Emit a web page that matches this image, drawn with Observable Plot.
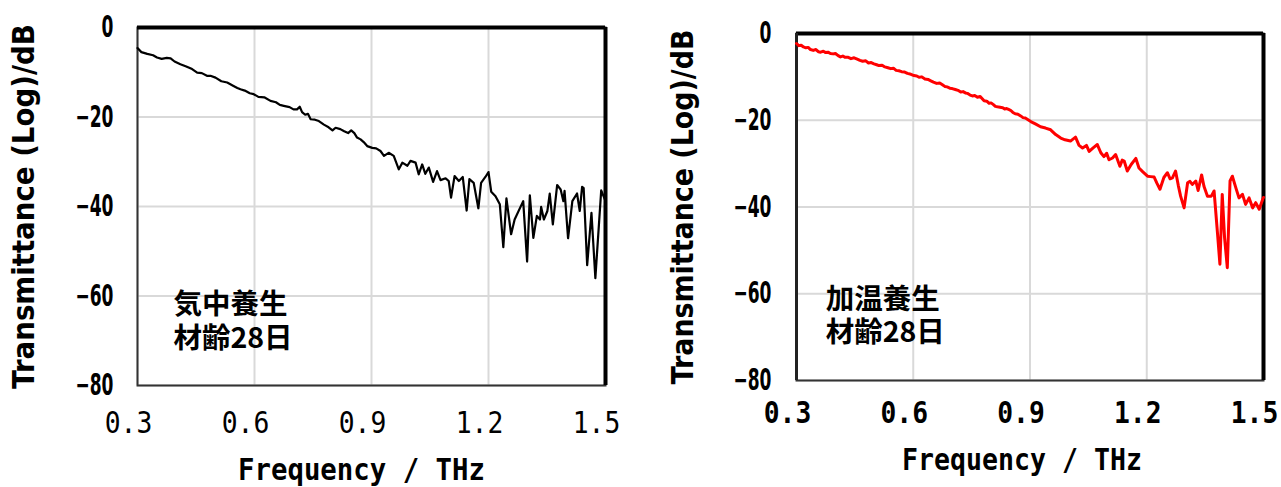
<!DOCTYPE html>
<html>
<head>
<meta charset="utf-8">
<script src="https://cdn.jsdelivr.net/npm/d3@7"></script>
<script src="https://cdn.jsdelivr.net/npm/@observablehq/plot@0.6"></script>
<style>
  body { margin: 0; background: #fff; }
  #wrap { position: relative; width: 1281px; height: 487px; overflow: hidden; background: #fff; }
  #left, #right { position: absolute; top: 0; }
  #left { left: 0; }
  #right { left: 640px; }
  svg { overflow: visible; }
</style>
</head>
<body>
<div id="wrap"><div id="left"></div><div id="right"></div></div>
<script>
// ---- data ----
const xTicks = [0.3, 0.6, 0.9, 1.2, 1.5];
const yTicks = [0, -20, -40, -60, -80];
const xLabel = "Frequency / THz";
const yLabel = "Transmittance (Log)/dB";
const leftNote = ["気中養生", "材齢28日"];
const rightNote = ["加温養生", "材齢28日"];

const leftFreq = [0.300,0.310,0.325,0.340,0.350,0.362,0.375,0.385,0.395,0.410,0.425,0.440,0.453,0.465,0.478,0.487,0.500,0.515,0.530,0.545,0.556,0.564,0.575,0.588,0.598,0.610,0.625,0.641,0.655,0.665,0.675,0.690,0.700,0.709,0.716,0.722,0.730,0.737,0.744,0.755,0.765,0.778,0.790,0.800,0.808,0.820,0.830,0.840,0.848,0.856,0.863,0.872,0.880,0.889,
  0.902,0.912,0.923,0.932,0.944,0.957,0.970,0.979,0.992,1.000,1.013,1.021,1.030,1.038,1.047,1.058,1.068,1.077,1.090,1.098,1.104,1.113,1.124,1.134,1.144,1.151,1.162,1.174,1.181,1.192,1.200,1.207,1.218,1.229,1.238,1.246,1.258,1.267,1.289,1.299,1.306,1.315,1.324,1.332,1.335,1.342,1.351,1.357,1.365,1.376,1.385,1.392,1.395,1.404,1.415,1.427,1.434,1.440,1.444,1.453,1.464,1.474,1.489,1.500];
const leftDb = [-4.6,-5.5,-5.9,-6.2,-6.7,-7.0,-6.8,-6.9,-7.6,-8.2,-8.7,-9.3,-10.1,-10.2,-10.8,-10.8,-11.2,-12.0,-12.3,-13.0,-13.5,-13.8,-14.1,-14.7,-14.9,-15.5,-15.6,-16.4,-16.7,-17.3,-17.5,-17.8,-18.3,-18.3,-17.7,-18.9,-19.5,-19.3,-20.5,-20.6,-20.9,-21.7,-22.3,-23.0,-22.4,-22.7,-23.2,-23.6,-23.0,-23.6,-24.6,-25.0,-25.6,-26.5,
  -26.9,-27.0,-27.6,-28.7,-28.0,-28.7,-31.7,-30.2,-30.9,-29.8,-30.2,-32.8,-30.6,-32.7,-31.3,-34.5,-32.1,-34.1,-33.7,-34.3,-38.0,-33.2,-34.3,-33.4,-40.9,-33.9,-34.7,-40.4,-34.7,-33.4,-32.3,-36.7,-37.7,-39.5,-49.1,-38.2,-46.2,-42.9,-38.8,-52.3,-37.5,-47.0,-42.1,-42.9,-40.1,-42.9,-41.0,-37.1,-44.0,-35.2,-36.2,-38.8,-36.5,-47.1,-38.8,-37.1,-41.0,-35.6,-35.9,-53.1,-41.4,-56.0,-36.4,-38.8];

const rightFreq = [0.300,0.306,0.312,0.318,0.324,0.330,0.336,0.343,0.350,0.356,0.362,0.369,0.375,0.381,0.387,0.394,0.400,0.407,0.413,0.419,0.425,0.433,0.440,0.448,0.456,0.463,0.470,0.478,0.485,0.492,0.499,0.506,0.512,0.520,0.527,0.535,0.542,0.549,0.556,0.563,0.570,0.578,0.585,0.594,0.602,0.609,0.615,0.622,0.630,0.638,0.645,0.652,0.660,0.668,0.675,0.681,0.687,0.694,0.700,0.708,0.715,0.722,0.728,0.734,0.739,0.746,0.752,0.758,0.765,0.772,0.782,0.789,0.795,0.800,0.806,0.811,0.816,0.823,0.830,0.835,0.840,0.845,0.850,0.856,0.862,0.869,0.876,0.882,0.888,0.895,
  0.902,0.915,0.927,0.940,0.953,0.966,0.979,0.990,1.004,1.017,1.026,1.035,1.045,1.052,1.063,1.073,1.082,1.090,1.097,1.103,1.112,1.120,1.131,1.137,1.142,1.150,1.160,1.172,1.180,1.190,1.202,1.210,1.219,1.226,1.234,1.244,1.253,1.260,1.266,1.274,1.281,1.287,1.296,1.305,1.311,1.317,1.326,1.332,1.341,1.347,1.356,1.366,1.373,1.382,1.388,1.394,1.400,1.407,1.414,1.420,1.429,1.437,1.446,1.454,1.463,1.472,1.480,1.489,1.498,1.500];
const rightDb = [-2.3,-2.8,-2.7,-3.1,-3.3,-3.2,-3.7,-3.9,-3.7,-4.2,-4.3,-4.1,-4.4,-4.3,-4.6,-4.7,-4.6,-5.1,-5.4,-5.2,-5.5,-5.5,-5.8,-5.6,-5.9,-6.2,-6.4,-6.3,-6.8,-6.7,-7.0,-7.2,-7.4,-7.3,-7.7,-7.9,-8.1,-8.0,-8.5,-8.6,-8.8,-8.9,-9.2,-9.4,-9.7,-9.8,-10.1,-10.0,-10.5,-10.6,-10.9,-11.2,-11.5,-11.4,-11.8,-12.2,-12.3,-12.6,-12.7,-12.9,-13.1,-13.5,-13.4,-13.7,-13.8,-14.2,-14.4,-14.3,-14.7,-14.5,-15.5,-15.6,-16.1,-16.0,-16.4,-16.8,-16.9,-17.0,-17.1,-17.4,-17.3,-17.5,-17.7,-18.2,-18.5,-18.6,-19.0,-19.4,-19.5,-19.9,
  -20.3,-20.9,-21.5,-21.8,-22.2,-23.3,-24.1,-24.5,-24.8,-23.9,-25.8,-26.4,-25.8,-27.2,-26.3,-25.6,-27.5,-28.4,-27.6,-29.1,-28.7,-27.9,-30.6,-29.2,-29.4,-31.7,-30.2,-28.8,-31.0,-31.9,-32.9,-33.0,-33.1,-34.5,-35.9,-33.2,-32.1,-33.5,-33.3,-31.7,-35.0,-37.5,-40.2,-34.4,-34.1,-34.8,-34.0,-36.2,-32.6,-35.2,-37.5,-37.5,-36.3,-46.3,-53.2,-37.1,-47.1,-54.0,-34.0,-32.9,-35.6,-37.9,-37.1,-39.4,-37.9,-40.2,-39.0,-40.5,-38.2,-37.8];

const leftData = leftFreq.map((f, i) => ({f, v: leftDb[i]}));
const rightData = rightFreq.map((f, i) => ({f, v: rightDb[i]}));

const tickFont = "'DejaVu Sans', sans-serif";
const monoFont = "'DejaVu Sans Mono','Liberation Mono',monospace";
const labelFont = "'DejaVu Sans', sans-serif";
const cjkFont = "'Noto Sans CJK JP','Noto Sans CJK SC',sans-serif";
const fmtY = d => (d < 0 ? "\u2212" + Math.abs(d) : String(d));

function panel(data, color, lineW, note, o) {
  return Plot.plot({
    width: o.width,
    height: 487,
    marginLeft: o.ml, marginRight: o.mr, marginTop: o.mt, marginBottom: o.mb,
    style: {background: "transparent", color: "#000"},
    x: {domain: [0.3, 1.5], ticks: xTicks},
    y: {domain: [-80, 0], ticks: yTicks},
    marks: [
      Plot.gridX(xTicks, {stroke: "#d9d9d9", strokeOpacity: 1, strokeWidth: 2}),
      Plot.gridY(yTicks, {stroke: "#d9d9d9", strokeOpacity: 1, strokeWidth: 2}),
      Plot.frame({stroke: "#333", strokeWidth: 2}),
      Plot.ruleY([0], {stroke: "#000", strokeWidth: 4}),
      Plot.ruleX([1.5], {stroke: "#000", strokeWidth: 4}),
      ...(o.leftThick ? [Plot.ruleX([0.3], {stroke: "#222", strokeWidth: 3})] : []),
      Plot.line(data, {x: "f", y: "v", stroke: color, strokeWidth: lineW, strokeLinejoin: "round"}),
      Plot.axisY(yTicks, {label: null, tickSize: 0, tickPadding: o.ypad, fontSize: 30, fontWeight: "bold", fontFamily: tickFont, tickFormat: fmtY}),
      Plot.axisX(xTicks, {label: null, tickSize: 0, tickPadding: o.xpad, dx: -9, fontSize: 31, fontFamily: monoFont, fontWeight: o.xbold ? "bold" : "normal", tickFormat: d => d.toFixed(1)}),
      Plot.text([yLabel], {text: d => d, frameAnchor: "left", textAnchor: "middle", dx: o.ylabDx, rotate: -90, fontSize: 30, fontWeight: "bold", fontFamily: labelFont}),
      Plot.text([xLabel], {text: d => d, frameAnchor: "bottom", dx: o.xlabDx, dy: o.xlabDy, fontSize: 30, fontWeight: "bold", fontFamily: monoFont}),
      Plot.text([note.join("\n")], {text: d => d, x: o.noteX, y: o.noteY, textAnchor: "start", lineHeight: 1.17, fontSize: 28.5, fontWeight: "bold", fontFamily: cjkFont})
    ]
  });
}

// condense glyphs horizontally, like the narrow Gothic face of the original
function squeeze(svg, label, sx) {
  svg.querySelectorAll(`g[aria-label="${label}"] text`).forEach(t => {
    t.setAttribute("transform", (t.getAttribute("transform") || "") + ` scale(${sx},1)`);
  });
}
// scale a label along its own direction so that it spans the given length
function fitLength(svg, content, len) {
  svg.querySelectorAll("text").forEach(t => {
    if (t.textContent !== content) return;
    const w = t.getComputedTextLength();
    if (w > 0) t.setAttribute("transform", (t.getAttribute("transform") || "") + ` scale(${len / w},1)`);
  });
}

const L = panel(leftData, "#000", 2.2, leftNote, {
  width: 640, ml: 137, mr: 35, mt: 27, mb: 102, ypad: 24, xpad: 25,
  ylabDx: -113, xlabDx: -10, xlabDy: 94, noteX: 0.392, noteY: -65.4, leftThick: false, xbold: false
});
const R = panel(rightData, "#ff0000", 3, rightNote, {
  width: 641, ml: 156, mr: 18, mt: 33, mb: 107, ypad: 25, xpad: 20,
  ylabDx: -113, xlabDx: -8, xlabDy: 89, noteX: 0.375, noteY: -64.8, leftThick: true, xbold: true
});
document.getElementById("left").append(L);
document.getElementById("right").append(R);
for (const svg of [L, R]) {
  squeeze(svg, "y-axis tick label", 0.57);
  squeeze(svg, "x-axis tick label", 0.85);
}
fitLength(L, xLabel, 247);
fitLength(R, xLabel, 240);
fitLength(L, yLabel, 365);
fitLength(R, yLabel, 355);
</script>
</body>
</html>
